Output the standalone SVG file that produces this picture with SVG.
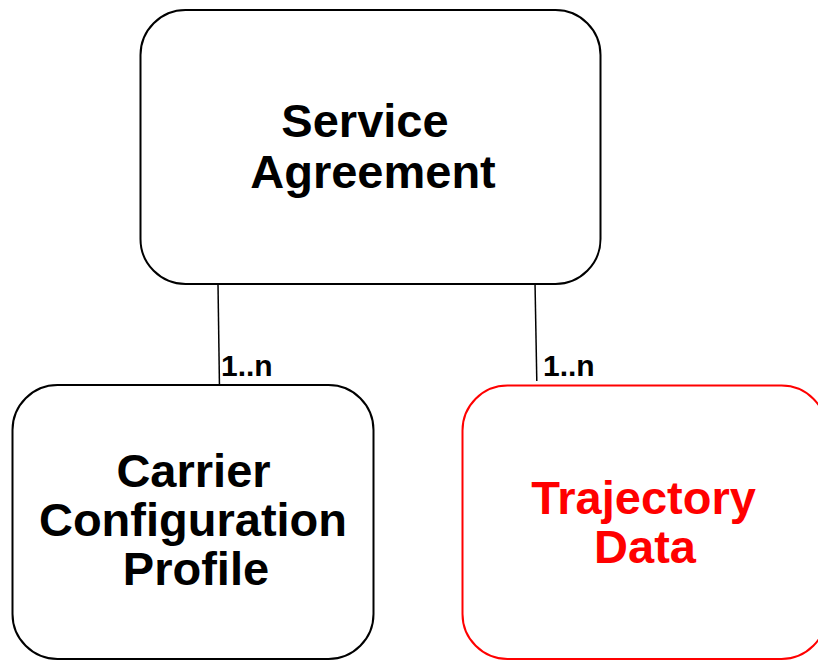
<svg xmlns="http://www.w3.org/2000/svg" width="818" height="660" viewBox="0 0 818 660">
  <style>
    .box { fill: #ffffff; stroke: #000000; stroke-width: 2; }
    .box.red { stroke: #ff0000; }
    .label { font-family: "Liberation Sans", Arial, sans-serif; font-weight: bold; font-size: 47px; fill: #000000; text-anchor: middle; }
    .label.red { fill: #ff0000; }
    .mult { font-family: "Liberation Sans", Arial, sans-serif; font-weight: bold; font-size: 30px; fill: #000000; }
    .link { stroke: #000000; stroke-width: 1.5; fill: none; }
  </style>
  <rect width="818" height="660" fill="#ffffff"/>

  <g id="connectors">
    <line class="link" x1="218" y1="284" x2="219.5" y2="389"/>
    <line class="link" x1="535" y1="282" x2="536.8" y2="381"/>
    <text class="mult" x="221" y="375.5">1..n</text>
    <text class="mult" x="543" y="375.5">1..n</text>
  </g>

  <g id="service-agreement">
    <rect class="box" x="140.5" y="10" width="460" height="274" rx="45" ry="45"/>
    <text class="label" x="365" y="137">Service</text>
    <text class="label" x="373" y="188">Agreement</text>
  </g>

  <g id="carrier-configuration-profile">
    <rect class="box" x="12.5" y="385" width="361" height="274" rx="45" ry="45"/>
    <text class="label" x="193.5" y="486.5">Carrier</text>
    <text class="label" x="193" y="536">Configuration</text>
    <text class="label" x="196" y="584.5">Profile</text>
  </g>

  <g id="trajectory-data">
    <rect class="box red" x="462.5" y="385.5" width="364" height="273.5" rx="45" ry="45"/>
    <text class="label red" x="643.5" y="513.5">Trajectory</text>
    <text class="label red" x="645" y="562.5">Data</text>
  </g>
</svg>
